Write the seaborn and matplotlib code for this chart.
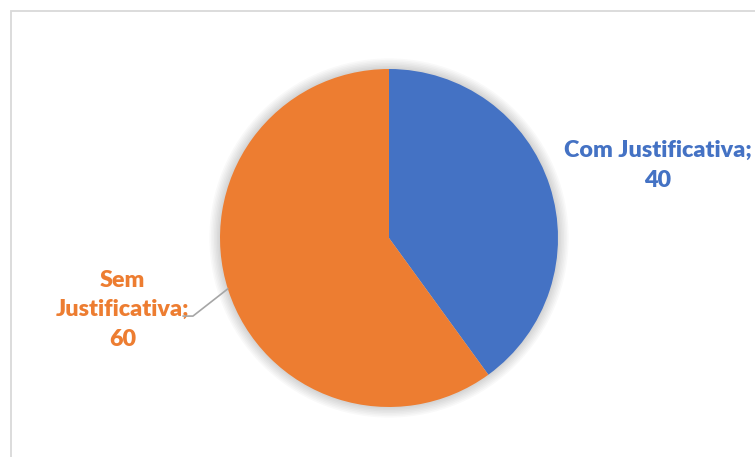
import numpy as np
import matplotlib
matplotlib.use("Agg")
import matplotlib.pyplot as plt
from matplotlib.patches import Rectangle, Circle
import seaborn as sns

# data
categories = ["Com Justificativa", "Sem Justificativa"]
label_text = ["Com Justificativa;", "Sem\nJustificativa;"]
values = [40, 60]
colors = ["#4472C4", "#ED7D31"]

sns.set_style("white")
plt.rcParams['font.family'] = ['Lato', 'DejaVu Sans']

W, H = 755, 457
fig = plt.figure(figsize=(W / 100, H / 100), dpi=100)

# pie centre / radius in pixels
cx, cy, r = 389, 238, 169
ax = fig.add_axes([(cx - r) / W, (H - cy - r) / H, 2 * r / W, 2 * r / H])

# soft glow behind pie
for k in range(1, 8):
    ax.add_patch(Circle((0, 0), 1 + k * 0.009, color="#000000", alpha=0.025,
                        zorder=0, clip_on=False, lw=0))

wedges, _ = ax.pie(values, colors=sns.color_palette(colors), startangle=90,
                   counterclock=False, radius=1,
                   wedgeprops=dict(linewidth=0, zorder=2))
ax.set_xlim(-1, 1)
ax.set_ylim(-1, 1)
ax.set_aspect("equal")
ax.axis("off")

# labels
ax.text(1.59, 0.43, f"{label_text[0]}\n{values[0]}", color=colors[0],
        fontsize=16.8, fontweight="heavy", ha="center", va="center",
        linespacing=1.5, clip_on=False)
ax.text(-1.575, -0.425, f"{label_text[1]}\n{values[1]}", color=colors[1],
        fontsize=16.8, fontweight="heavy", ha="center", va="center",
        linespacing=1.5, clip_on=False)

# leader line for the left label
ang = np.deg2rad(197.5)
ax.plot([np.cos(ang), -1.16, -1.219], [np.sin(ang), -0.462, -0.462],
        color="#A6A6A6", lw=1.2, clip_on=False, zorder=3)

# chart frame
fig.patches.append(Rectangle((11 / W, -0.1), 1.2, 1.1 - 11 / H,
                             transform=fig.transFigure, fill=False,
                             edgecolor="#D9D9D9", lw=1.3))

fig.savefig("out.png", dpi=100)
